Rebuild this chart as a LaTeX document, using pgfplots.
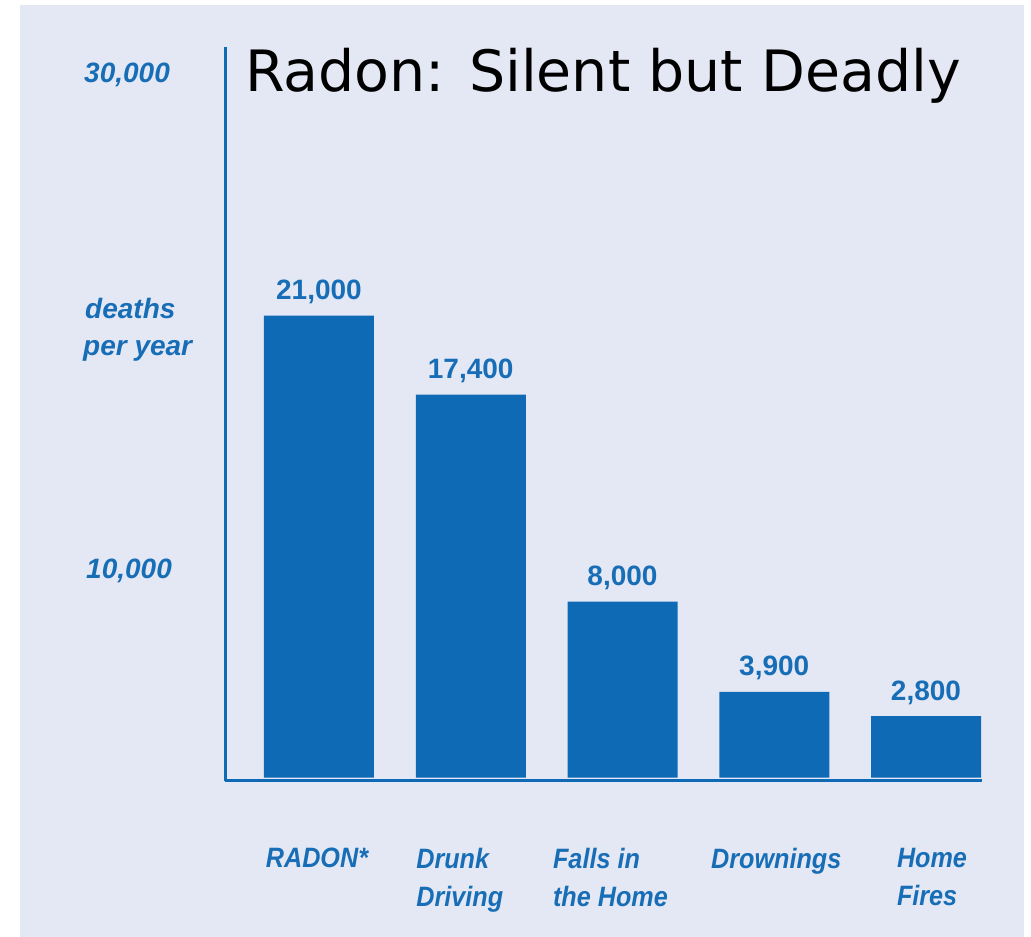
\documentclass[border=0pt]{standalone}
\usepackage{fontspec}
\setmainfont{Liberation Sans}
\newfontfamily\titlefont{DejaVu Sans}
\newfontfamily\catfont[FakeStretch=0.9]{Liberation Sans}
\usepackage{pgfplots}
\pgfplotsset{compat=1.18}
\definecolor{bg}{RGB}{228,232,244}
\definecolor{barblue}{RGB}{14,106,180}
\definecolor{txtblue}{RGB}{24,110,182}
\begin{document}
\begin{tikzpicture}[x=1pt,y=1pt]
\fill[white] (0,0) rectangle (1031,937);
\fill[bg] (20,0) rectangle (1024,932);
\begin{axis}[
  at={(225pt,156pt)}, anchor=south west,
  scale only axis, width=757pt, height=734pt,
  xmin=-0.6194, xmax=4.369, ymin=-150, ymax=33200,
  axis x line*=bottom, axis y line*=left,
  axis line style={-, draw=barblue, line width=3pt},
  ytick=\empty,
  xtick=data,
  xticklabels={RADON*, {Drunk\\Driving}, {Falls in\\the Home}, Drownings, {Home\\Fires}},
  major tick length=0pt,
  xticklabel style={anchor=north, inner sep=0pt, yshift=-67pt, align=left,
    xshift={{-2,-11,-12,2,6}[\ticknum]*1pt},
    font=\catfont\bfseries\itshape\fontsize{28}{38}\selectfont, text=txtblue},
  ybar, bar width=110pt,
  nodes near coords={\pgfmathprintnumber[fixed, precision=0, 1000 sep={,}, assume math mode=true]{\pgfplotspointmeta}},
  nodes near coords style={anchor=base, inner sep=0pt, yshift=16pt,
    font=\bfseries\fontsize{28}{32}\selectfont, text=txtblue},
  clip=false,
]
\addplot[fill=barblue, draw=none] coordinates {(0,21000) (1,17400) (2,8000) (3,3900) (4,2800)};
\end{axis}
\node[anchor=base west, inner sep=0pt, font=\titlefont\fontsize{57}{60}\selectfont] at (245,845) {Radon: Silent but Deadly};
\node[anchor=base west, inner sep=0pt, text=txtblue, font=\bfseries\itshape\fontsize{28}{32}\selectfont] at (84,854) {30,000};
\node[anchor=base west, inner sep=0pt, text=txtblue, font=\bfseries\itshape\fontsize{28}{32}\selectfont] at (86,358) {10,000};
\node[anchor=base west, inner sep=0pt, text=txtblue, font=\bfseries\itshape\fontsize{28}{32}\selectfont] at (85,618) {deaths};
\node[anchor=base west, inner sep=0pt, text=txtblue, font=\bfseries\itshape\fontsize{28}{32}\selectfont] at (83,581) {per year};
\end{tikzpicture}
\end{document}
